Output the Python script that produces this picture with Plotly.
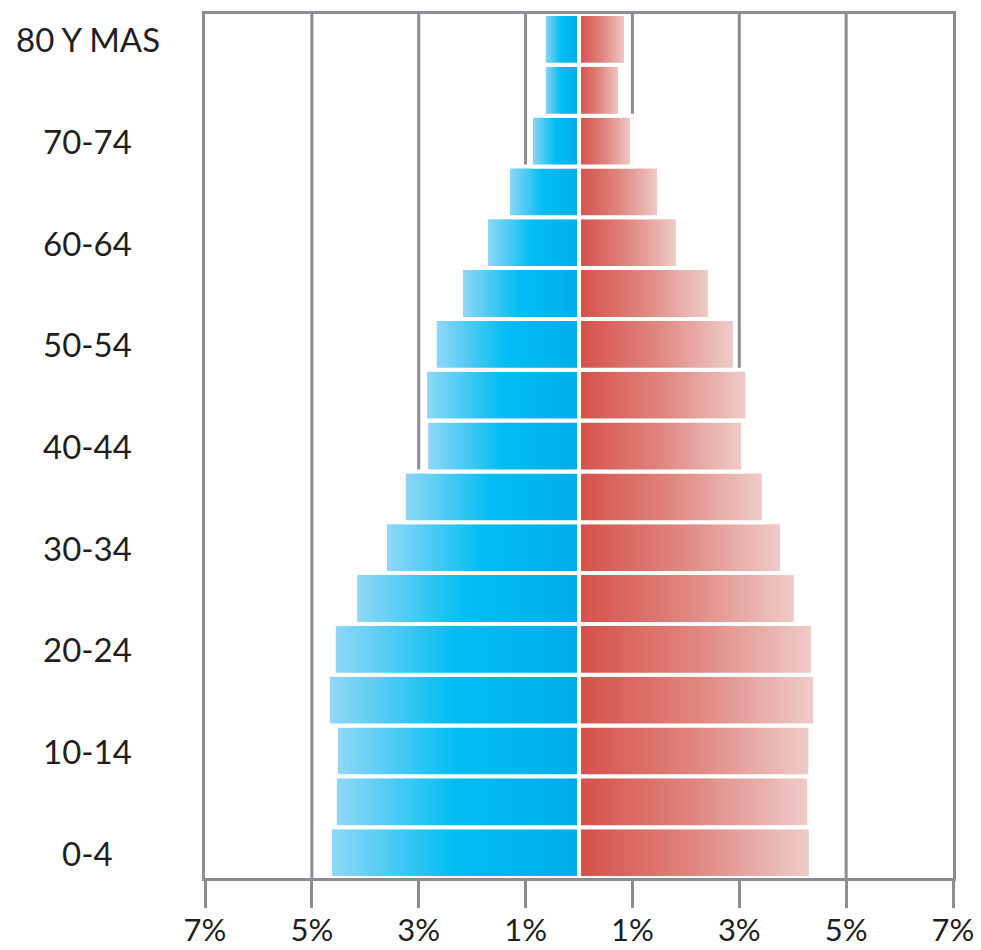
import plotly.graph_objects as go

# Age groups, youngest first (bottom of the pyramid)
age_groups = ["0-4", "5-9", "10-14", "15-19", "20-24", "25-29", "30-34", "35-39",
              "40-44", "45-49", "50-54", "55-59", "60-64", "65-69", "70-74",
              "75-79", "80 Y MAS"]

# Share of total population (%) per age group
men = [4.66, 4.57, 4.55, 4.70, 4.59, 4.19, 3.63, 3.28,
       2.86, 2.88, 2.70, 2.21, 1.74, 1.33, 0.90, 0.66, 0.66]
women = [4.34, 4.31, 4.33, 4.42, 4.38, 4.06, 3.80, 3.46,
         3.07, 3.15, 2.92, 2.45, 1.85, 1.50, 0.99, 0.77, 0.88]

# Axis ticks (left side shows men as negative values)
tick_values = [-7, -5, -3, -1, 1, 3, 5, 7]
tick_labels = ["7%", "5%", "3%", "1%", "1%", "3%", "5%", "7%"]
grid_values = [-5, -3, -1, 1, 3, 5]
labelled_groups = ["0-4", "10-14", "20-24", "30-34", "40-44", "50-54",
                   "60-64", "70-74", "80 Y MAS"]

BLUE_SCALE = [[0.0, "#93d8f6"], [0.5, "#00bdf2"], [1.0, "#00adea"]]
RED_SCALE = [[0.0, "#d5504a"], [0.5, "#e0867f"], [1.0, "#efcdca"]]
GRID = "#8c8c92"
FONT = "Lato"
TEXT = "#1f1f1f"

HALF = 0.5  # half bar height in category units

fig = go.Figure()


def add_bar(y, x0, x1, scale):
    fig.add_trace(go.Scatter(
        x=[x0, x1, x1, x0, x0],
        y=[y - HALF, y - HALF, y + HALF, y + HALF, y - HALF],
        mode="lines",
        fill="toself",
        fillgradient=dict(type="horizontal", colorscale=scale,
                          start=min(x0, x1), stop=max(x0, x1)),
        line=dict(color="white", width=4),
        hoverinfo="skip",
        showlegend=False,
    ))


for i, (m, w) in enumerate(zip(men, women)):
    add_bar(i, -m, 0, BLUE_SCALE)
    add_bar(i, 0, w, RED_SCALE)

# Vertical gridlines behind the bars
for g in grid_values:
    fig.add_shape(type="line", xref="x", yref="paper", x0=g, x1=g, y0=0, y1=1,
                  line=dict(color=GRID, width=3), layer="below")

# Age labels, centred to the left of the plot
for lab in labelled_groups:
    fig.add_annotation(text=lab, x=-0.157, xref="paper", xanchor="center",
                       y=age_groups.index(lab), yref="y", yanchor="middle",
                       showarrow=False,
                       font=dict(family=FONT, size=33, color=TEXT))

fig.update_xaxes(range=[-7, 7], tickvals=tick_values, ticktext=tick_labels,
                 showgrid=False, zeroline=False, automargin=False,
                 showline=True, mirror=True, linecolor=GRID, linewidth=3,
                 ticks="outside", ticklen=27, tickwidth=3, tickcolor=GRID,
                 ticklabelstandoff=-4,
                 tickfont=dict(family=FONT, size=31, color=TEXT))
fig.update_yaxes(range=[-0.5, len(age_groups) - 0.5], showticklabels=False,
                 showgrid=False, zeroline=False, automargin=False,
                 showline=True, mirror=True, linecolor=GRID, linewidth=3)

fig.update_layout(width=981, height=950,
                  margin=dict(l=205, r=28, t=14, b=72),
                  plot_bgcolor="white", paper_bgcolor="white")

fig.write_html("out.html")
